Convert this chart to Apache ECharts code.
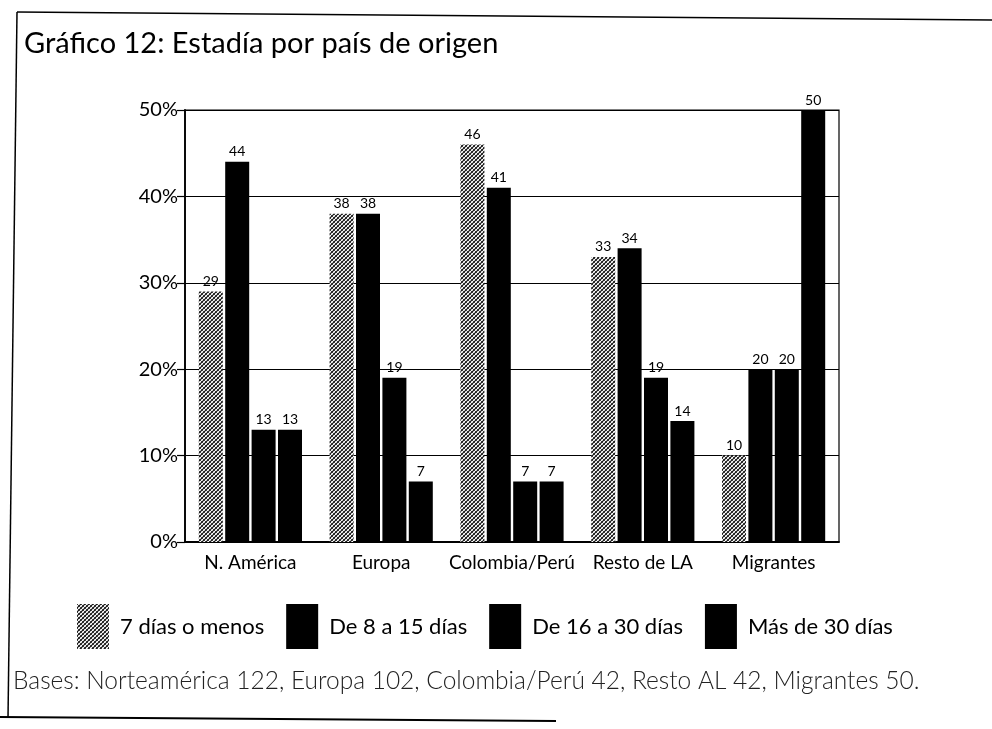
<!DOCTYPE html>
<html>
<head>
<meta charset="utf-8">
<style>
html,body{margin:0;padding:0;background:#fff;}
#chart{width:992px;height:729px;}
</style>
<script src="https://cdn.jsdelivr.net/npm/echarts@6/dist/echarts.min.js"></script>
</head>
<body>
<div id="chart"></div>
<script>
const categories = ['N. América', 'Europa', 'Colombia/Perú', 'Resto de LA', 'Migrantes'];
const seriesNames = ['7 días o menos', 'De 8 a 15 días', 'De 16 a 30 días', 'Más de 30 días'];
const s7omenos = [29, 38, 46, 33, 10];
const s8a15 = [44, 38, 41, 34, 20];
const s16a30 = [13, 19, 7, 19, 20];
const sMas30 = [13, 7, 7, 14, 50];
const yTicks = [0, 10, 20, 30, 40, 50];
const titleText = 'Gráfico 12: Estadía por país de origen';
const footText = 'Bases: Norteamérica 122, Europa 102, Colombia/Perú 42, Resto AL 42, Migrantes 50.';

function hatch() {
  const c = document.createElement('canvas');
  c.width = 4; c.height = 4;
  const g = c.getContext('2d');
  g.fillStyle = '#ffffff'; g.fillRect(0, 0, 4, 4);
  g.strokeStyle = '#111'; g.lineWidth = 1.2;
  g.beginPath();
  g.moveTo(-1, 5); g.lineTo(5, -1);
  g.moveTo(-3, 3); g.lineTo(3, -3);
  g.moveTo(1, 7); g.lineTo(7, 1);
  g.stroke();
  g.strokeStyle = '#333'; g.lineWidth = 0.9;
  g.beginPath();
  g.moveTo(-1, -1); g.lineTo(5, 5);
  g.moveTo(-3, 1); g.lineTo(3, 7);
  g.moveTo(1, -3); g.lineTo(7, 3);
  g.stroke();
  return c;
}
const hatchFill = { image: hatch(), repeat: 'repeat' };
const FONT = 'Lato';

const chart = echarts.init(document.getElementById('chart'), null, {renderer: 'canvas'});
const dataSets = [s7omenos, s8a15, s16a30, sMas30];
const series = dataSets.map((d, i) => ({
  name: seriesNames[i],
  type: 'bar',
  data: d,
  barWidth: 24,
  barGap: '10%',
  itemStyle: { color: i === 0 ? hatchFill : '#000' },
  label: { show: true, position: 'top', distance: 3, color: '#000', fontSize: 14, fontFamily: FONT }
}));

chart.setOption({
  animation: false,
  backgroundColor: '#fff',
  title: {
    text: titleText, left: 19, top: 24,
    textStyle: { fontFamily: FONT, fontSize: 29, fontWeight: 'normal', color: '#000' }
  },
  legend: {
    left: 72, top: 599,
    itemWidth: 32, itemHeight: 45, itemGap: 22,
    icon: 'rect',
    textStyle: { fontFamily: FONT, fontSize: 22, color: '#000', padding: [0, 0, 0, 6] },
    data: seriesNames.map((n, i) => ({ name: n, itemStyle: { color: i === 0 ? hatchFill : '#000' } }))
  },
  grid: { left: 185, right: 153, top: 110, height: 432, show: true, borderColor: '#000', borderWidth: 1.2 },
  xAxis: {
    type: 'category', data: categories,
    axisLine: { lineStyle: { color: '#000', width: 1.8 } },
    axisTick: { inside: true, length: 12, lineStyle: { color: '#000', width: 1.2 } },
    axisLabel: { interval: 0, color: '#000', fontSize: 19, fontFamily: FONT, margin: 11 }
  },
  yAxis: {
    type: 'value', min: 0, max: 50, interval: 10,
    axisLine: { show: true, lineStyle: { color: '#000', width: 1.8 } },
    axisTick: { show: true, length: 8, lineStyle: { color: '#000', width: 1.2 } },
    axisLabel: { color: '#000', fontSize: 20, fontFamily: FONT, margin: 7,
      formatter: v => yTicks.includes(v) ? v + '%' : '' },
    splitLine: { show: true, lineStyle: { color: '#000', width: 1.2 } }
  },
  graphic: [
    { type: 'line', shape: { x1: 17, y1: 12, x2: 992, y2: 20 }, style: { stroke: '#000', lineWidth: 1.5 } },
    { type: 'line', shape: { x1: 17, y1: 12, x2: 8, y2: 718 }, style: { stroke: '#000', lineWidth: 1.5 } },
    { type: 'line', shape: { x1: 0, y1: 717, x2: 556, y2: 721 }, style: { stroke: '#000', lineWidth: 1.8 } },
    { type: 'text', left: 13, top: 669,
      style: { text: footText, font: '300 24.5px Lato', fill: '#222' } }
  ],
  series: series
});
</script>
</body>
</html>
